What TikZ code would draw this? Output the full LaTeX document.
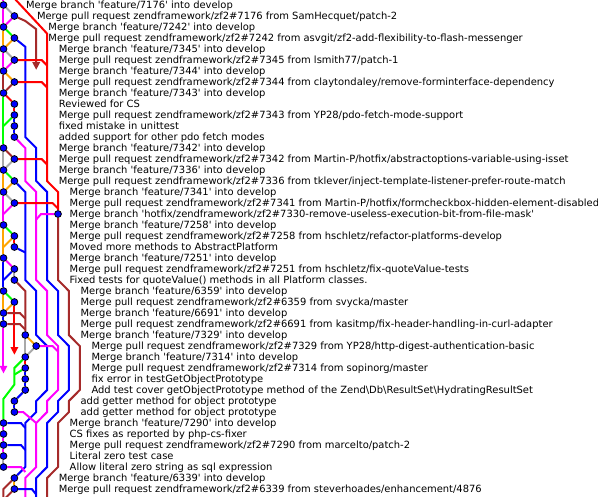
\documentclass[tikz,border=0pt]{standalone}
\usepackage{fontspec}
\setmainfont{DejaVu Sans}
\usetikzlibrary{arrows.meta}

\definecolor{gkgreen}{RGB}{0,255,0}
\definecolor{gkred}{RGB}{255,0,0}
\definecolor{gkblue}{RGB}{0,0,255}
\definecolor{gkmagenta}{RGB}{255,0,255}
\definecolor{gkgray}{RGB}{169,169,169}
\definecolor{gkbrown}{RGB}{165,42,42}
\definecolor{gkorange}{RGB}{255,165,0}

\newcommand{\sq}{\textquotesingle}

\pgfdeclarelayer{edges}
\pgfsetlayers{edges,main}

\tikzset{
	commit/.style={circle, draw=black, fill=gkblue, line width=0.6pt, inner sep=0pt, minimum size=5.1pt},
	msg/.style={anchor=base west, inner sep=0pt, yshift=-2.75pt, font=\fontsize{7.45}{8}\selectfont},
	edge/.style={line width=1.5pt},
	lgreen/.style={edge, draw=gkgreen},
	lred/.style={edge, draw=gkred},
	lblue/.style={edge, draw=gkblue},
	lmag/.style={edge, draw=gkmagenta},
	lgray/.style={edge, draw=gkgray},
	lbrown/.style={edge, draw=gkbrown},
	lorange/.style={edge, draw=gkorange},
	cut/.style={-{Triangle[width=5.5pt,length=5.8pt]}}
}

\begin{document}
\begin{tikzpicture}[x=8.175pt, y=-8.25pt]

	\useasboundingbox (-0.3211,0.5455) rectangle (54.541,45.636);

	%Commits (column, row)
	\node[commit] (C1) at (0,1) {};
	\node[commit] (C2) at (1,2) {};
	\node[commit] (C3) at (0,3) {};
	\node[commit] (C4) at (1,4) {};
	\node[commit] (C5) at (0,5) {};
	\node[commit] (C6) at (1,6) {};
	\node[commit] (C7) at (0,7) {};
	\node[commit] (C8) at (1,8) {};
	\node[commit] (C9) at (0,9) {};
	\node[commit] (C10) at (1,10) {};
	\node[commit] (C11) at (1,11) {};
	\node[commit] (C12) at (1,12) {};
	\node[commit] (C13) at (1,13) {};
	\node[commit] (C14) at (0,14) {};
	\node[commit] (C15) at (1,15) {};
	\node[commit] (C16) at (0,16) {};
	\node[commit] (C17) at (1,17) {};
	\node[commit] (C18) at (0,18) {};
	\node[commit] (C19) at (1,19) {};
	\node[commit] (C20) at (5,20) {};
	\node[commit] (C21) at (0,21) {};
	\node[commit] (C22) at (1,22) {};
	\node[commit] (C23) at (1,23) {};
	\node[commit] (C24) at (0,24) {};
	\node[commit] (C25) at (1,25) {};
	\node[commit] (C26) at (1,26) {};
	\node[commit] (C27) at (0,27) {};
	\node[commit] (C28) at (1,28) {};
	\node[commit] (C29) at (0,29) {};
	\node[commit] (C30) at (0,30) {};
	\node[commit] (C31) at (2,31) {};
	\node[commit] (C32) at (3,32) {};
	\node[commit] (C33) at (2,33) {};
	\node[commit] (C34) at (2,34) {};
	\node[commit] (C35) at (2,35) {};
	\node[commit] (C36) at (2,36) {};
	\node[commit] (C37) at (1,37) {};
	\node[commit] (C38) at (1,38) {};
	\node[commit] (C39) at (0,39) {};
	\node[commit] (C40) at (0,40) {};
	\node[commit] (C41) at (0,41) {};
	\node[commit] (C42) at (0,42) {};
	\node[commit] (C43) at (0,43) {};
	\node[commit] (C44) at (1,44) {};
	\node[commit] (C45) at (1,45) {};

	%Messages
	\node[msg] (T1) at (2.05,1) {Merge branch \sq feature/7176\sq{} into develop};
	\node[msg] (T2) at (3.05,2) {Merge pull request zendframework/zf2\#7176 from SamHecquet/patch-2};
	\node[msg] (T3) at (4.1,3) {Merge branch \sq feature/7242\sq{} into develop};
	\node[msg] (T4) at (4.1,4) {Merge pull request zendframework/zf2\#7242 from asvgit/zf2-add-flexibility-to-flash-messenger};
	\node[msg] (T5) at (5.05,5) {Merge branch \sq feature/7345\sq{} into develop};
	\node[msg] (T6) at (5.05,6) {Merge pull request zendframework/zf2\#7345 from lsmith77/patch-1};
	\node[msg] (T7) at (5.05,7) {Merge branch \sq feature/7344\sq{} into develop};
	\node[msg] (T8) at (5.05,8) {Merge pull request zendframework/zf2\#7344 from claytondaley/remove-forminterface-dependency};
	\node[msg] (T9) at (5.05,9) {Merge branch \sq feature/7343\sq{} into develop};
	\node[msg] (T10) at (5.05,10) {Reviewed for CS};
	\node[msg] (T11) at (5.05,11) {Merge pull request zendframework/zf2\#7343 from YP28/pdo-fetch-mode-support};
	\node[msg] (T12) at (5.05,12) {fixed mistake in unittest};
	\node[msg] (T13) at (5.05,13) {added support for other pdo fetch modes};
	\node[msg] (T14) at (5.05,14) {Merge branch \sq feature/7342\sq{} into develop};
	\node[msg] (T15) at (5.05,15) {Merge pull request zendframework/zf2\#7342 from Martin-P/hotfix/abstractoptions-variable-using-isset};
	\node[msg] (T16) at (5.05,16) {Merge branch \sq feature/7336\sq{} into develop};
	\node[msg] (T17) at (5.05,17) {Merge pull request zendframework/zf2\#7336 from tklever/inject-template-listener-prefer-route-match};
	\node[msg] (T18) at (6.05,18) {Merge branch \sq feature/7341\sq{} into develop};
	\node[msg] (T19) at (6.05,19) {Merge pull request zendframework/zf2\#7341 from Martin-P/hotfix/formcheckbox-hidden-element-disabled};
	\node[msg] (T20) at (6.05,20) {Merge branch \sq hotfix/zendframework/zf2\#7330-remove-useless-execution-bit-from-file-mask\sq};
	\node[msg] (T21) at (6.05,21) {Merge branch \sq feature/7258\sq{} into develop};
	\node[msg] (T22) at (6.05,22) {Merge pull request zendframework/zf2\#7258 from hschletz/refactor-platforms-develop};
	\node[msg] (T23) at (6.05,23) {Moved more methods to AbstractPlatform};
	\node[msg] (T24) at (6.05,24) {Merge branch \sq feature/7251\sq{} into develop};
	\node[msg] (T25) at (6.05,25) {Merge pull request zendframework/zf2\#7251 from hschletz/fix-quoteValue-tests};
	\node[msg] (T26) at (6.05,26) {Fixed tests for quoteValue() methods in all Platform classes.};
	\node[msg] (T27) at (7.05,27) {Merge branch \sq feature/6359\sq{} into develop};
	\node[msg] (T28) at (7.05,28) {Merge pull request zendframework/zf2\#6359 from svycka/master};
	\node[msg] (T29) at (7.05,29) {Merge branch \sq feature/6691\sq{} into develop};
	\node[msg] (T30) at (7.05,30) {Merge pull request zendframework/zf2\#6691 from kasitmp/fix-header-handling-in-curl-adapter};
	\node[msg] (T31) at (7.05,31) {Merge branch \sq feature/7329\sq{} into develop};
	\node[msg] (T32) at (8.05,32) {Merge pull request zendframework/zf2\#7329 from YP28/http-digest-authentication-basic};
	\node[msg] (T33) at (8.05,33) {Merge branch \sq feature/7314\sq{} into develop};
	\node[msg] (T34) at (8.05,34) {Merge pull request zendframework/zf2\#7314 from sopinorg/master};
	\node[msg] (T35) at (8.05,35) {fix error in testGetObjectPrototype};
	\node[msg] (T36) at (8.05,36) {Add test cover getObjectPrototype method of the Zend\textbackslash Db\textbackslash ResultSet\textbackslash HydratingResultSet};
	\node[msg] (T37) at (7.05,37) {add getter method for object prototype};
	\node[msg] (T38) at (7.05,38) {add getter method for object prototype};
	\node[msg] (T39) at (6.05,39) {Merge branch \sq feature/7290\sq{} into develop};
	\node[msg] (T40) at (6.05,40) {CS fixes as reported by php-cs-fixer};
	\node[msg] (T41) at (6.05,41) {Merge pull request zendframework/zf2\#7290 from marcelto/patch-2};
	\node[msg] (T42) at (6.05,42) {Literal zero test case};
	\node[msg] (T43) at (6.05,43) {Allow literal zero string as sql expression};
	\node[msg] (T44) at (5.05,44) {Merge branch \sq feature/6339\sq{} into develop};
	\node[msg] (T45) at (5.05,45) {Merge pull request zendframework/zf2\#6339 from steverhoades/enhancement/4876};

	%Lines (drawn under the commits)
	\begin{pgfonlayer}{edges}
	\draw[lmag] (0,0.4) -- (C1);
	\draw[lmag] (C1) -- (C3);
	\draw[lgray] (C1) -- (C2);
	\draw[lmag] (C2) -- (C3);
	\draw[lbrown, cut] (C2) -- (2,2.45) -- (3,3.2) -- (3,6.9); % line goes on far below
	\draw[lred] (1,0.4) -- (4,3.6) -- (4,17) -- (5,18) -- (C20);
	\draw[lorange] (C3) -- (C5);
	\draw[lgreen] (C3) -- (C4);
	\draw[lorange] (C4) -- (C5);
	\draw[lblue] (C4) -- (2,4.8) -- (2,13) -- (3,14) -- (3,17) -- (4,18) -- (4,26) -- (5,27) -- (5,31) -- (6,32) -- (6,36) -- (5,37) -- (5,38) -- (4,39) -- (4,43) -- (3,44) -- (3,46);
	\draw[lmag] (C5) -- (C7);
	\draw[lgray] (C5) -- (C6);
	\draw[lmag] (C6) -- (C7);
	\draw[lred] (C6) -- (3.5,6) -- (4,6.5);
	\draw[lbrown] (C7) -- (C9);
	\draw[lorange] (C7) -- (C8);
	\draw[lbrown] (C8) -- (C9);
	\draw[lred] (C8) -- (3.5,8) -- (4,8.5);
	\draw[lgreen] (C9) -- (C14);
	\draw[lred] (C9) -- (C10);
	\draw[lred] (C10) -- (C11);
	\draw[lgreen] (C11) -- (0,12);
	\draw[lblue] (C11) -- (C12);
	\draw[lblue] (C12) -- (C13);
	\draw[lmag] (C13) -- (2,14) -- (2,17) -- (3,18) -- (3,26) -- (4,27) -- (4,31) -- (5,32) -- (5,36) -- (4,37) -- (4,38) -- (3,39) -- (3,43) -- (2,44) -- (2,46);
	\draw[lgray] (C14) -- (C16);
	\draw[lbrown] (C14) -- (C15);
	\draw[lgray] (C15) -- (C16);
	\draw[lred] (C15) -- (3.5,15) -- (4,15.5);
	\draw[lorange] (C16) -- (C18);
	\draw[lgreen] (C16) -- (C17);
	\draw[lorange] (C17) -- (C18);
	\draw[lblue] (C17) -- (2,18) -- (2,26) -- (3,27) -- (3,31) -- (4,32) -- (4,36) -- (3,37) -- (3,38) -- (2,39) -- (2,43) -- (C44);
	\draw[lmag] (C18) -- (C21);
	\draw[lgray] (C18) -- (C19);
	\draw[lmag] (C19) -- (0,20);
	\draw[lred] (C19) -- (4.5,19) -- (5,19.5);
	\draw[lbrown] (C20) -- (5,26) -- (6,27) -- (6,31) -- (7,32) -- (7,36) -- (6,37) -- (6,38) -- (5,39) -- (5,43) -- (4,44) -- (4,46);
	\draw[lmag] (C20) -- (3.45,20) -- (3,20.5);
	\draw[lorange] (C21) -- (C24);
	\draw[lgreen] (C21) -- (C22);
	\draw[lred] (C22) -- (C23);
	\draw[lorange] (C22) -- (0,23);
	\draw[lblue] (C23) -- (2,23.5);
	\draw[lblue] (C24) -- (C27);
	\draw[lmag] (C24) -- (C25);
	\draw[lblue] (C25) -- (0,26);
	\draw[lgray] (C25) -- (C26);
	\draw[lbrown] (C26) -- (2,27) -- (C31);
	\draw[lorange] (C27) -- (C29);
	\draw[lgreen] (C27) -- (C28);
	\draw[lorange] (C28) -- (C29);
	\draw[lred, cut] (C28) -- (1,32.8);
	\draw[lblue] (C29) -- (C30);
	\draw[lbrown] (C29) -- (1.5,29) -- (2,29.5);
	\draw[lbrown] (C30) -- (1.5,30) -- (2,30.5);
	\draw[lmag, cut] (C30) -- (0,34.5);
	\draw[lorange] (C31) -- (C32);
	\draw[lgray] (C31) -- (C33);
	\draw[lgray] (C32) -- (C33);
	\draw[lmag] (C32) -- (4.5,32) -- (5,32.5);
	\draw[lred] (C33) -- (C34);
	\draw[lgreen] (C33) -- (1,34) -- (1,35.5) -- (0,36.8) -- (C39);
	\draw[lgreen] (C34) -- (1,34.6);
	\draw[lblue] (C34) -- (C35);
	\draw[lblue] (C35) -- (C36);
	\draw[lblue] (C36) -- (C37);
	\draw[lblue] (C37) -- (C38);
	\draw[lmag] (C38) -- (1.8,38) -- (3,39);
	\draw[lmag] (C39) -- (C40);
	\draw[lblue] (C39) -- (1.6,39) -- (2,39.45);
	\draw[lmag] (C40) -- (C41);
	\draw[lblue] (C41) -- (1.6,41) -- (2,41.45);
	\draw[lmag] (C41) -- (C42);
	\draw[lgray] (C42) -- (C43);
	\draw[lmag] (C43) -- (1.6,43) -- (2,43.45);
	\draw[lorange] (C44) -- (C45);
	\draw[lbrown] (C44) -- (0,45) -- (0,46);
	\draw[lbrown] (C45) -- (0,46);
	\draw[lblue] (C45) -- (2.6,45) -- (3,45.5);
	\end{pgfonlayer}

\end{tikzpicture}
\end{document}
